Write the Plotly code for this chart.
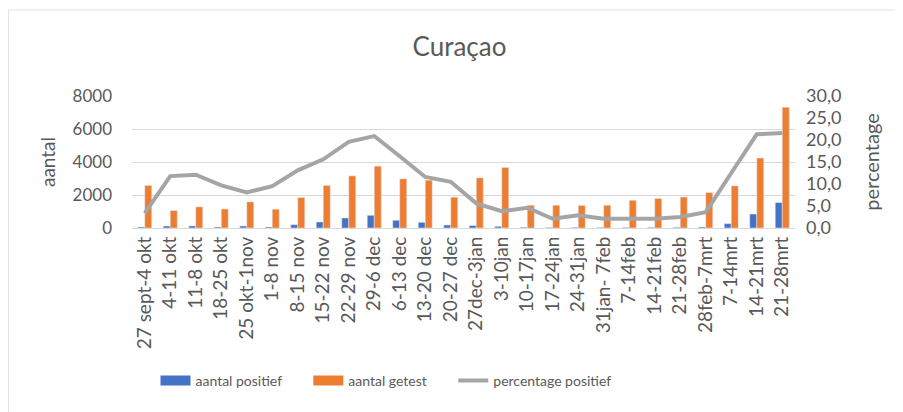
import plotly.graph_objects as go

weeks = ["27 sept-4 okt", "4-11 okt", "11-8 okt", "18-25 okt", "25 okt-1nov", "1-8 nov",
         "8-15 nov", "15-22 nov", "22-29 nov", "29-6 dec", "6-13 dec", "13-20 dec",
         "20-27 dec", "27dec-3jan", "3-10jan", "10-17jan", "17-24jan", "24-31jan",
         "31jan- 7feb", "7-14feb", "14-21feb", "21-28feb", "28feb-7mrt", "7-14mrt",
         "14-21mrt", "21-28mrt"]
aantal_positief = [60, 120, 125, 60, 120, 60, 200, 365, 610, 770, 470, 345, 180, 150,
                   100, 45, 35, 40, 35, 35, 40, 45, 60, 265, 850, 1540]
aantal_getest = [2580, 1060, 1280, 1150, 1580, 1140, 1850, 2580, 3160, 3750, 2980, 2900,
                 1870, 3040, 3670, 1380, 1380, 1370, 1380, 1680, 1790, 1880, 2150, 2550,
                 4240, 7320]
percentage_positief = [3.4, 11.8, 12.1, 9.7, 8.1, 9.5, 13.1, 15.6, 19.6, 20.9, 16.3, 11.6,
                       10.5, 5.6, 3.8, 4.6, 2.1, 2.9, 2.1, 2.1, 2.1, 2.5, 3.6, 12.5,
                       21.3, 21.6]

left_ticks = [0, 2000, 4000, 6000, 8000]
right_ticks = [0, 5, 10, 15, 20, 25, 30]
right_labels = ["0,0", "5,0", "10,0", "15,0", "20,0", "25,0", "30,0"]

TXT = "#595959"
FONT = "Lato, 'Open Sans', sans-serif"
BLUE, ORANGE, GRAY = "#4472C4", "#ED7D31", "#A5A5A5"
PAD = "\u00a0" * 6

fig = go.Figure()
fig.add_trace(go.Bar(x=weeks, y=aantal_positief, name="aantal positief",
                     marker_color=BLUE, showlegend=False, legendgroup="pos"))
fig.add_trace(go.Bar(x=weeks, y=aantal_getest, name="aantal getest",
                     marker_color=ORANGE, showlegend=False, legendgroup="get"))
fig.add_trace(go.Scatter(x=weeks, y=percentage_positief, name="percentage positief",
                         mode="lines", line=dict(color=GRAY, width=4),
                         yaxis="y2", showlegend=False, legendgroup="pct"))

# legend entries (wide rectangular swatches like the original)
fig.add_trace(go.Scatter(x=[None], y=[None], mode="lines", name="aantal positief" + PAD,
                         line=dict(color=BLUE, width=11), legendgroup="pos"))
fig.add_trace(go.Scatter(x=[None], y=[None], mode="lines", name="aantal getest" + PAD,
                         line=dict(color=ORANGE, width=11), legendgroup="get"))
fig.add_trace(go.Scatter(x=[None], y=[None], mode="lines", name="percentage positief",
                         line=dict(color=GRAY, width=4), legendgroup="pct"))

# page body has an 8px margin; figure pixel = screen pixel - 8
OFF = 8
W, H = 903, 412
L, R, T, B = 132 - OFF, 116, 96 - OFF, 192
pw, ph = W - L - R, H - T - B

def px2x(sx):
    return (sx - OFF - L) / pw

def py2y(sy):
    return (H - B - (sy - OFF)) / ph

fig.update_layout(
    width=W, height=H,
    margin=dict(l=L, r=R, t=T, b=B),
    paper_bgcolor="white", plot_bgcolor="white",
    font=dict(family=FONT, color=TXT, size=15),
    title=dict(text="Curaçao", x=0.5, xanchor="center", y=1 - (47 - OFF) / H,
               yanchor="middle", font=dict(size=26, color=TXT, family=FONT)),
    barmode="group", bargap=0.45, bargroupgap=0,
    xaxis=dict(tickangle=-90, tickfont=dict(size=19, color=TXT), showgrid=False,
               showline=True, linecolor="#D9D9D9", linewidth=1, ticks="",
               ticklen=0, automargin=False),
    yaxis=dict(range=[0, 8000], tickvals=left_ticks, ticktext=[str(v) for v in left_ticks],
               showgrid=True, gridcolor="#D9D9D9", gridwidth=1, zeroline=False,
               showline=False, tickfont=dict(size=17, color=TXT), ticklabelstandoff=19,
               title=dict(text="aantal", font=dict(size=19, color=TXT), standoff=11),
               automargin=False),
    yaxis2=dict(range=[0, 30], tickvals=right_ticks, ticktext=right_labels,
                overlaying="y", side="right", showgrid=False, zeroline=False,
                showline=False, tickfont=dict(size=18, color=TXT), ticklabelstandoff=10,
                title=dict(text="percentage", font=dict(size=20, color=TXT), standoff=24),
                automargin=False),
    legend=dict(orientation="h", x=px2x(386), xanchor="center", y=py2y(381),
                yanchor="middle", font=dict(size=14, color=TXT), itemwidth=30,
                traceorder="normal", bgcolor="rgba(0,0,0,0)", tracegroupgap=0),
    showlegend=True,
)

# faint chart-area border (left and top edges)
fig.add_shape(type="line", xref="paper", yref="paper", x0=px2x(8.5), x1=px2x(8.5),
              y0=py2y(10), y1=py2y(420), line=dict(color="#E3E3E3", width=1), layer="below")
fig.add_shape(type="line", xref="paper", yref="paper", x0=px2x(8.5), x1=px2x(911),
              y0=py2y(10), y1=py2y(10), line=dict(color="#E3E3E3", width=1), layer="below")

fig.write_html("out.html")
